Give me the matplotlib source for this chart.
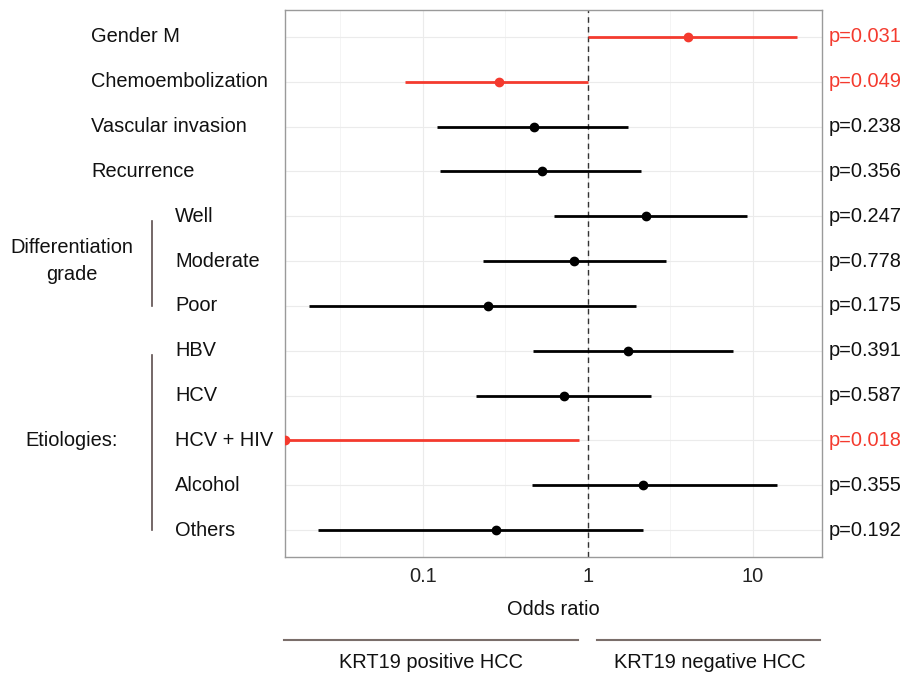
"""Forest plot of KRT19 positive vs negative HCC odds ratios."""
import matplotlib
matplotlib.use("Agg")
import matplotlib.pyplot as plt
import matplotlib.transforms as mtransforms
import numpy as np

plt.rcParams["font.family"] = ["Liberation Sans", "DejaVu Sans"]

labels = ["Gender M", "Chemoembolization", "Vascular invasion", "Recurrence",
          "Well", "Moderate", "Poor",
          "HBV", "HCV", "HCV + HIV", "Alcohol", "Others"]
odds = [4.03, 0.29, 0.472, 0.524, 2.26, 0.824, 0.249, 1.76, 0.713, 0.0146, 2.16, 0.278]
ci_low = [1.0, 0.0778, 0.122, 0.127, 0.62, 0.23, 0.0205, 0.465, 0.211, 0.005, 0.46, 0.0232]
ci_high = [18.6, 1.0, 1.76, 2.09, 9.17, 2.97, 1.96, 7.59, 2.41, 0.879, 14.0, 2.15]
pvals = ["0.031", "0.049", "0.238", "0.356", "0.247", "0.778", "0.175",
         "0.391", "0.587", "0.018", "0.355", "0.192"]
groups = [("Differentiation\ngrade", 4, 6), ("Etiologies:", 7, 11)]
sides = ["KRT19 positive HCC", "KRT19 negative HCC"]

RED = "#F43A2E"
FS = 14.4
W, H = 905, 675

fig = plt.figure(figsize=(W / 100, H / 100), dpi=100)
ax = fig.add_axes([285 / W, 1 - 557 / H, (822 - 285) / W, (557 - 10) / H])

ax.set_xscale("log")
ax.set_xlim(0.0146, 26.2)
ypos = np.arange(1, len(labels) + 1)
ax.set_ylim(len(labels) + 0.6, 0.4)

# grid
for g in [10 ** -1.5, 10 ** -0.5, 10 ** 0.5]:
    ax.axvline(g, color="#F2F2F2", lw=0.6, zorder=0)
for g in [0.1, 1, 10]:
    ax.axvline(g, color="#EBEBEB", lw=0.8, zorder=0)
for y in ypos:
    ax.axhline(y, color="#EBEBEB", lw=0.8, zorder=0)
ax.axvline(1, color="#333333", lw=1.0, ls=(0, (4, 3)), zorder=1)

for i, y in enumerate(ypos):
    c = RED if float(pvals[i]) < 0.05 else "black"
    ax.plot([ci_low[i], ci_high[i]], [y, y], color=c, lw=2.0, solid_capstyle="butt", zorder=2)
    ax.plot(odds[i], y, "o", color=c, ms=6, zorder=3)

ax.set_xticks([0.1, 1, 10])
ax.set_xticklabels(["0.1", "1", "10"])
ax.minorticks_off()
ax.set_yticks([])
ax.tick_params(axis="x", length=0, pad=7, labelsize=FS, labelcolor="#222222")
ax.set_xlabel("Odds ratio", fontsize=FS, labelpad=10, color="#111111")
for s in ax.spines.values():
    s.set_color("#9A9A9A")
    s.set_linewidth(1.0)

tr = mtransforms.blended_transform_factory(fig.transFigure, ax.transData)

# row labels
for i, y in enumerate(ypos):
    in_group = any(a <= i <= b for _, a, b in groups)
    x = 175 / W if in_group else 91 / W
    ax.text(x, y, labels[i], transform=tr, fontsize=FS, ha="left", va="center",
            color="#111111", clip_on=False)
    c = RED if float(pvals[i]) < 0.05 else "#111111"
    ax.text(829 / W, y, "p=" + pvals[i], transform=tr, fontsize=FS, ha="left",
            va="center", color=c, clip_on=False)

# group labels and brackets
for name, a, b in groups:
    mid = (ypos[a] + ypos[b]) / 2
    ax.text(72 / W, mid, name, transform=tr, fontsize=FS, ha="center", va="center",
            color="#111111", linespacing=1.55, clip_on=False)
    ax.plot([152 / W, 152 / W], [ypos[a] + 0.1, ypos[b]], transform=tr,
            color="#5C4E4E", lw=1.2, clip_on=False)

# bottom direction bars
fig.add_artist(plt.Line2D([284 / W, 578 / W], [1 - 640 / H] * 2, color="#7A6E6A", lw=1.5))
fig.add_artist(plt.Line2D([597 / W, 820 / W], [1 - 640 / H] * 2, color="#7A6E6A", lw=1.5))
fig.text(431 / W, 1 - 663 / H, sides[0], fontsize=FS, ha="center", va="center", color="#111111")
fig.text(710 / W, 1 - 663 / H, sides[1], fontsize=FS, ha="center", va="center", color="#111111")

fig.savefig("out.png", dpi=100)
